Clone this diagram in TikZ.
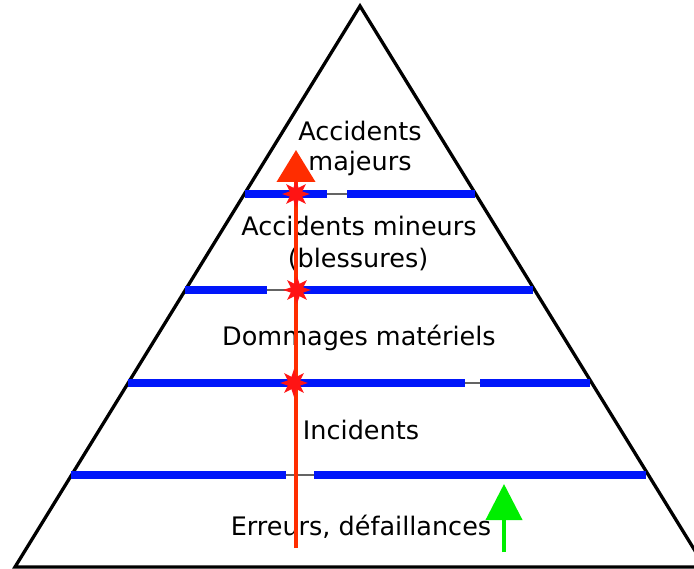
\documentclass[tikz,border=0pt]{standalone}
\usepackage{fontspec}
\setmainfont{DejaVu Sans}
\usetikzlibrary{shapes.geometric,arrows.meta}
\definecolor{levelblue}{RGB}{0,22,250}
\definecolor{pathred}{RGB}{255,45,0}
\definecolor{burstred}{RGB}{255,20,20}
\definecolor{goodgreen}{RGB}{0,238,0}
\definecolor{gapgray}{RGB}{100,100,100}
\tikzset{
  pyramid/.style={line width=3.3pt, line join=miter},
  level/.style={levelblue, line width=7.5pt},
  gap/.style={gapgray, line width=1.5pt},
  label/.style={font=\fontsize{25.5}{31}\selectfont, anchor=mid, inner sep=0pt},
  burst/.style={star, star points=8, star point ratio=2.1, minimum size=28pt,
    inner sep=0pt, fill=burstred, draw=none},
  riskpath/.style={pathred, line width=4pt, -{Triangle[length=32pt,width=38pt]}},
  okpath/.style={goodgreen, line width=4pt, -{Triangle[length=36pt,width=36pt]}},
}
\begin{document}
\begin{tikzpicture}[x=1pt,y=-1pt]
\useasboundingbox (0,0) rectangle (694,569);
\fill[white] (0,0) rectangle (694,569);
\begin{scope}
\clip (0,0) rectangle (694,569);
% outline of the pyramid
\draw[pyramid] (360,6) coordinate (apex) -- (15,567) coordinate (bl) -- (705,567) coordinate (br) -- cycle;

% level boundaries, each broken by a thin gap
\draw[gap] (327,194) -- (347,194);
\draw[level] (245,194) -- (327,194);
\draw[level] (347,194) -- (475,194);

\draw[gap] (267,290) -- (300,290);
\draw[level] (185,290) -- (267,290);
\draw[level] (300,290) -- (533,290);

\draw[gap] (465,383) -- (480,383);
\draw[level] (128,383) -- (465,383);
\draw[level] (480,383) -- (590,383);

\draw[gap] (286,475) -- (314,475);
\draw[level] (71,475) -- (286,475);
\draw[level] (314,475) -- (646,475);
\end{scope}

% level names
\node[label] (acc) at (360,138) {Accidents};
\node[label] (maj) at (360,168) {majeurs};
\node[label] (accmin) at (359,233) {Accidents mineurs};
\node[label] (bless) at (358,265) {(blessures)};
\node[label] (dom) at (359,343) {Dommages matériels};
\node[label] (inc) at (361,437) {Incidents};
\node[label] (erreurs) at (361,533) {Erreurs, défaillances};

% path of an event climbing through the levels
\coordinate (redstart) at (296,548);
\coordinate (redtip) at (296,150);
\draw[riskpath] (redstart) -- (redtip);
\node[burst] (b1) at (296,194) {};
\node[burst] (b2) at (297,290) {};
\node[burst] (b3) at (294,383) {};

% arrested event
\coordinate (greenstart) at (504,552);
\coordinate (greentip) at (504,484);
\draw[okpath] (greenstart) -- (greentip);
\end{tikzpicture}
\end{document}
